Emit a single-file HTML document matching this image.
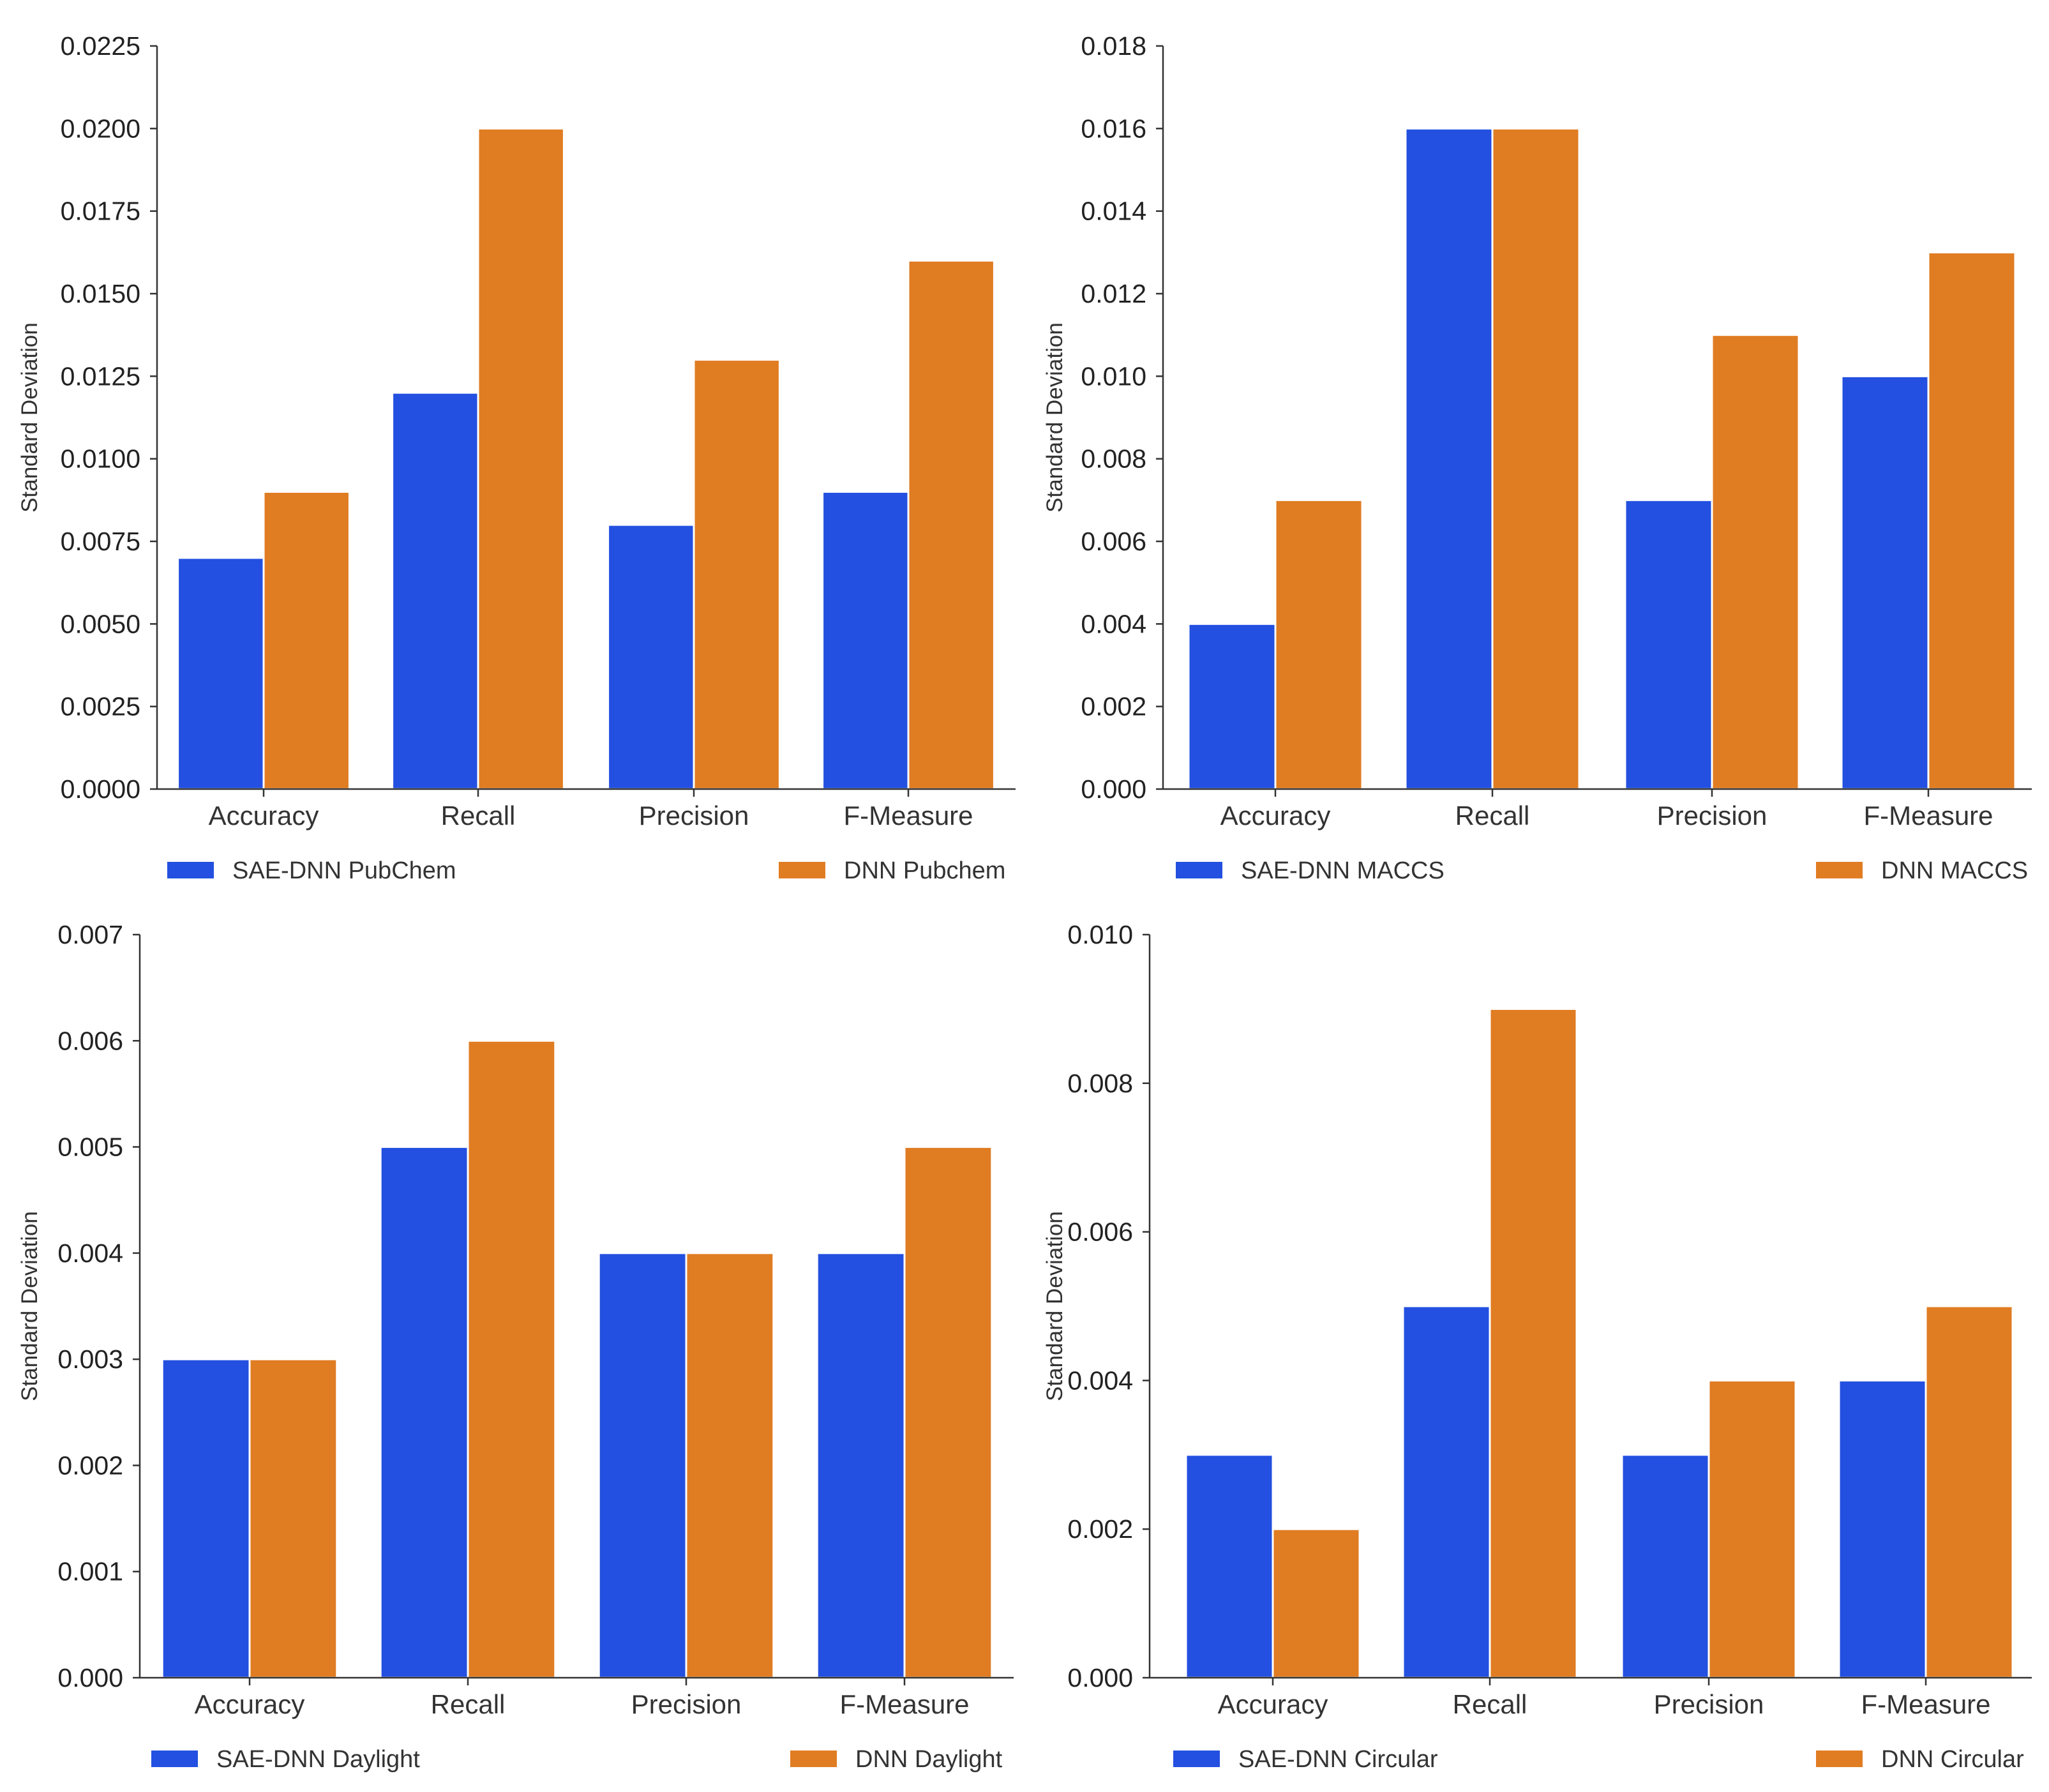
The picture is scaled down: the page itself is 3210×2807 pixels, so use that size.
<!DOCTYPE html>
<html><head><meta charset="utf-8"><style>
html,body{margin:0;padding:0;background:#fff;}
svg{display:block;font-family:"Liberation Sans",Arial,sans-serif;}
</style></head><body>
<svg id="chart" width="3210" height="2807" viewBox="0 0 3210 2807" xmlns="http://www.w3.org/2000/svg"></svg>
<script>
const categories = ["Accuracy","Recall","Precision","F-Measure"];
const p1Blue = [0.007,0.012,0.008,0.009];
const p1Orange = [0.009,0.020,0.013,0.016];
const p2Blue = [0.004,0.016,0.007,0.010];
const p2Orange = [0.007,0.016,0.011,0.013];
const p3Blue = [0.003,0.005,0.004,0.004];
const p3Orange = [0.003,0.006,0.004,0.005];
const p4Blue = [0.003,0.005,0.003,0.004];
const p4Orange = [0.002,0.009,0.004,0.005];
const p1Ticks = [0,0.0025,0.005,0.0075,0.01,0.0125,0.015,0.0175,0.02,0.0225];
const p2Ticks = [0,0.002,0.004,0.006,0.008,0.010,0.012,0.014,0.016,0.018];
const p3Ticks = [0,0.001,0.002,0.003,0.004,0.005,0.006,0.007];
const p4Ticks = [0,0.002,0.004,0.006,0.008,0.010];
const p1Legend = ["SAE-DNN PubChem","DNN Pubchem"];
const p2Legend = ["SAE-DNN MACCS","DNN MACCS"];
const p3Legend = ["SAE-DNN Daylight","DNN Daylight"];
const p4Legend = ["SAE-DNN Circular","DNN Circular"];

const NS="http://www.w3.org/2000/svg";
const svg=document.getElementById('chart');
const BLUE="#2350e0", ORANGE="#e07c22", AX="#333";
function mk(tag,attrs,parent){const e=document.createElementNS(NS,tag);for(const k in attrs)e.setAttribute(k,attrs[k]);(parent||svg).appendChild(e);return e;}

function panel(id,cfg,blue,orange,ticks,dec,legend){
  const g=mk('g',{});
  
  
  const {x0,x1,yTop,yZero,tickX,legY,legB,legO,titleX}=cfg;
  const vmax=ticks[ticks.length-1];
  const y=v=>yZero-(v/vmax)*(yZero-yTop);
  const spacing=tickX[1]-tickX[0];
  const bw=spacing*0.4;
  for(let i=0;i<categories.length;i++){
    const cx=tickX[i];
    const b=mk('rect',{x:cx-bw,y:y(blue[i]),width:bw,height:yZero-y(blue[i]),fill:BLUE,stroke:'#fff','stroke-width':3},g);
    
    
    const o=mk('rect',{x:cx,y:y(orange[i]),width:bw,height:yZero-y(orange[i]),fill:ORANGE,stroke:'#fff','stroke-width':3},g);
    
    
    const t=mk('line',{x1:cx,x2:cx,y1:yZero,y2:yZero+12,stroke:AX,'stroke-width':2.5},g);
    
    
    const lb=mk('text',{x:cx,y:yZero+56,'text-anchor':'middle','font-size':42,fill:'#333'},g);
    lb.textContent=categories[i];
    
    
  }
  const ya=mk('line',{x1:x0,x2:x0,y1:yTop,y2:yZero,stroke:AX,'stroke-width':2.5},g);
  
  
  const xa=mk('line',{x1:x0,x2:x1,y1:yZero,y2:yZero,stroke:AX,'stroke-width':2.5},g);
  
  
  ticks.forEach(v=>{
    const tl=mk('line',{x1:x0-11,x2:x0,y1:y(v),y2:y(v),stroke:AX,'stroke-width':2.5},g);
    
    
    const tt=mk('text',{x:x0-26,y:y(v)+14,'text-anchor':'end','font-size':41,fill:'#222'},g);
    tt.textContent=v.toFixed(dec);
    
    
  });
  const cy=(yTop+yZero)/2;
  const yt=mk('text',{x:titleX,y:cy,'text-anchor':'middle','font-size':35,fill:'#333',transform:`rotate(-90 ${titleX} ${cy})`},g);
  yt.textContent="Standard Deviation";
  
  
  [[legB,BLUE,legend[0]],[legO,ORANGE,legend[1]]].forEach(([lx,c,txt],k)=>{
    const r=mk('rect',{x:lx,y:legY-13,width:73,height:26,fill:c},g);
    
    
    const t=mk('text',{x:lx+102,y:legY+13,'font-size':38,fill:'#333'},g);
    t.textContent=txt;
    
    
  });
}
panel('panel-pubchem',{x0:246,x1:1591,yTop:72,yZero:1236,tickX:[413,749,1087,1423],legY:1363,legB:262,legO:1220,titleX:58},p1Blue,p1Orange,p1Ticks,4,p1Legend);
panel('panel-maccs',{x0:1822,x1:3183,yTop:72,yZero:1236,tickX:[1998,2338,2682,3021],legY:1363,legB:1842,legO:2845,titleX:1664},p2Blue,p2Orange,p2Ticks,3,p2Legend);
panel('panel-daylight',{x0:219,x1:1588,yTop:1464,yZero:2628,tickX:[391,733,1075,1417],legY:2755,legB:237,legO:1238,titleX:58},p3Blue,p3Orange,p3Ticks,3,p3Legend);
panel('panel-circular',{x0:1801,x1:3183,yTop:1464,yZero:2628,tickX:[1994,2334,2677,3017],legY:2755,legB:1838,legO:2845,titleX:1664},p4Blue,p4Orange,p4Ticks,3,p4Legend);
</script>
</body></html>
